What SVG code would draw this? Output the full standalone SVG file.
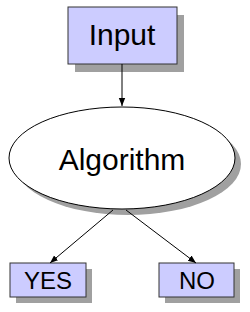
<svg xmlns="http://www.w3.org/2000/svg" width="250" height="312" viewBox="0 0 250 312">
<style>
.box{fill:#ccccff;stroke:#333;stroke-width:1}
.sh{fill:#a0a0a0}
.el{fill:#fff;stroke:#000;stroke-width:1}
.t{font-family:"Liberation Sans",Arial,sans-serif;fill:#000;text-anchor:middle}
.c{stroke:#000;stroke-width:1;fill:none;marker-end:url(#ah)}
</style>
<defs>
<marker id="ah" viewBox="0 0 10 10" refX="10" refY="5" markerWidth="8" markerHeight="8" markerUnits="userSpaceOnUse" orient="auto">
<path d="M0,1 L10,5 L0,9 Z" fill="#000"/>
</marker>
</defs>
<rect x="0" y="0" width="250" height="312" fill="#fff"/>
<g id="input">
<rect class="sh" x="75" y="15" width="109" height="57"/>
<rect class="box" x="68" y="7" width="109" height="57"/>
<text class="t" x="122" y="45" font-size="30">Input</text>
</g>
<g id="algorithm">
<ellipse class="sh" cx="128" cy="164" rx="113" ry="51"/>
<ellipse class="el" cx="122" cy="158" rx="113" ry="51"/>
<text class="t" x="122" y="170" font-size="30">Algorithm</text>
</g>
<g id="yes">
<rect class="sh" x="16" y="269" width="76" height="34"/>
<rect class="box" x="10" y="263" width="76" height="34"/>
<text class="t" x="48" y="289" font-size="24">YES</text>
</g>
<g id="no">
<rect class="sh" x="165" y="269" width="75" height="34"/>
<rect class="box" x="159" y="263" width="75" height="34"/>
<text class="t" x="197" y="289" font-size="24">NO</text>
</g>
<g id="connectors">
<line class="c" x1="122" y1="64" x2="122" y2="106"/>
<line class="c" x1="113" y1="210" x2="50" y2="263"/>
<line class="c" x1="126" y1="210" x2="196" y2="263"/>
</g>
</svg>
